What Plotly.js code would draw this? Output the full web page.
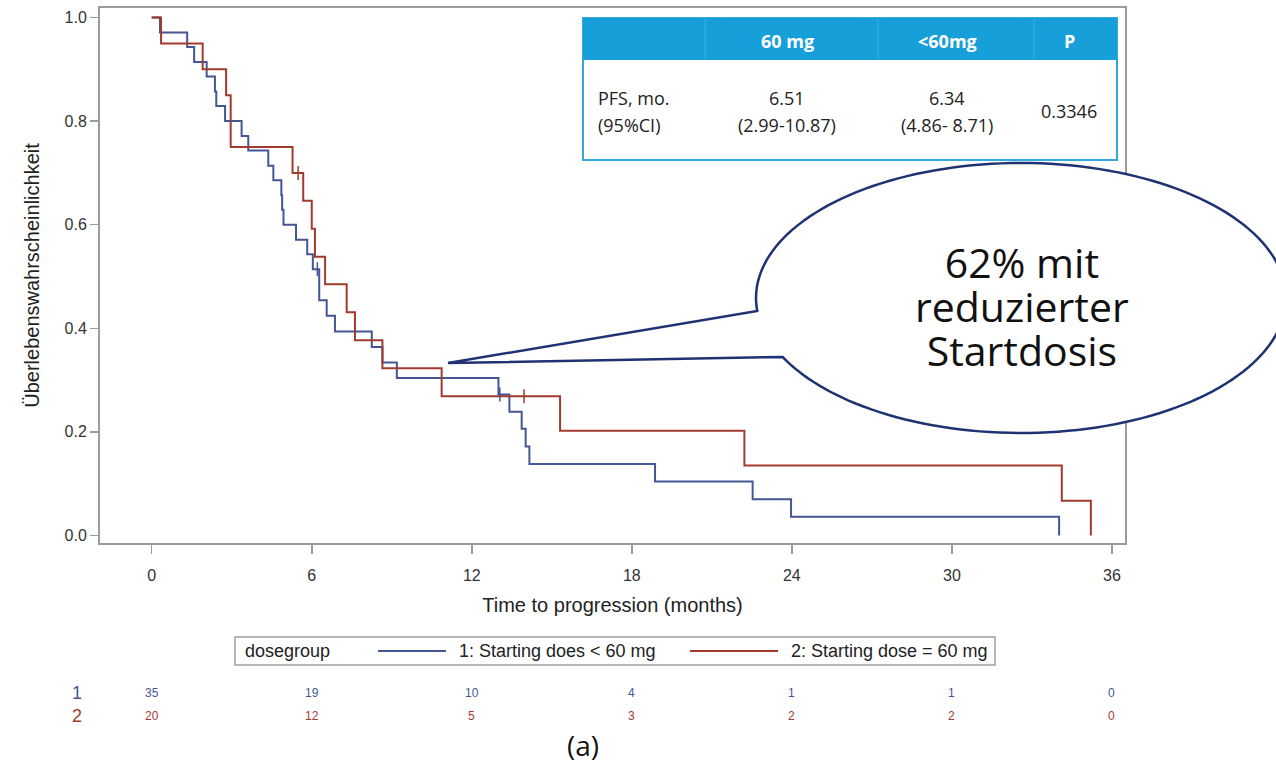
<!DOCTYPE html>
<html>
<head>
<meta charset="utf-8">
<script src="https://cdn.plot.ly/plotly-3.0.1.min.js"></script>
<style>html,body{margin:0;padding:0;background:#fff;}#chart{width:1276px;height:767px;}</style>
</head>
<body>
<div id="chart"></div>
<script>
// ---- data ----
const monthsBlue = [0,0.31,1.33,1.59,2.06,2.37,2.42,2.75,3.37,3.62,4.37,4.56,4.86,4.89,4.94,5.41,5.83,6.04,6.28,6.56,6.87,8.25,8.65,9.19,13.0,13.41,13.87,14.02,14.16,18.87,22.53,23.97,34.02];
const survBlue   = [1,0.971,0.943,0.914,0.886,0.857,0.829,0.800,0.771,0.743,0.714,0.686,0.657,0.629,0.600,0.571,0.543,0.514,0.454,0.424,0.394,0.364,0.334,0.304,0.272,0.239,0.206,0.172,0.138,0.104,0.070,0.036,0];
const censorBlueX = [6.21, 13.05];
const censorBlueY = [0.514, 0.272];

const monthsRed = [0,0.35,1.91,2.79,2.96,5.28,5.68,6.00,6.12,6.50,7.31,7.62,8.65,10.87,15.31,22.22,34.12,35.21];
const survRed   = [1,0.95,0.90,0.85,0.75,0.70,0.646,0.592,0.538,0.485,0.431,0.377,0.323,0.269,0.202,0.135,0.067,0];
const censorRedX = [5.49, 13.96];
const censorRedY = [0.70, 0.269];

const riskTimes = [0,6,12,18,24,30,36];
const riskBlue  = [35,19,10,4,1,1,0];
const riskRed   = [20,12,5,3,2,2,0];

const seriesNames = ["1: Starting does < 60 mg", "2: Starting dose = 60 mg"];
const tableHeader = ["60 mg", "<60mg", "P"];
const tableRowLabel = ["PFS, mo.", "(95%CI)"];
const tableMedian = ["6.51", "6.34"];
const tableCI = ["(2.99-10.87)", "(4.86- 8.71)"];
const tableP = "0.3346";
const calloutLines = ["62% mit", "reduzierter", "Startdosis"];

// ---- styling ----
const BLUE = "#445694", RED = "#A23A2E";
const AX = "#9b9b9b";
const SANS = "Liberation Sans, Arial, sans-serif";
const OPEN = "Open Sans, Noto Sans, sans-serif";

// plot area in pixels: x 100..1125, y 8..543
const L = 100, R = 1125, T = 8, B = 543, W = 1276, H = 767;
const px = v => (v - L) / (R - L);
const py = v => (B - v) / (B - T);

const traces = [
  {x: monthsBlue, y: survBlue, mode: "lines", line: {shape: "hv", color: BLUE, width: 2}, name: seriesNames[0], hoverinfo: "x+y"},
  {x: monthsRed, y: survRed, mode: "lines", line: {shape: "hv", color: RED, width: 2}, name: seriesNames[1], hoverinfo: "x+y"},
  {x: censorBlueX, y: censorBlueY, mode: "markers", marker: {symbol: "line-ns", size: 10, line: {color: BLUE, width: 1.5}}, hoverinfo: "skip"},
  {x: censorRedX, y: censorRedY, mode: "markers", marker: {symbol: "line-ns", size: 10, line: {color: RED, width: 1.5}}, hoverinfo: "skip"}
];

const shapes = [];
const annotations = [];

// ---- PFS table ----
shapes.push({type: "rect", xref: "paper", yref: "paper", x0: px(583), x1: px(1117), y0: py(18), y1: py(160),
  fillcolor: "#ffffff", line: {color: "#35a8dd", width: 2}, layer: "above"});
shapes.push({type: "rect", xref: "paper", yref: "paper", x0: px(583), x1: px(1117), y0: py(18), y1: py(60),
  fillcolor: "#179fd9", line: {width: 0}, layer: "above"});
[705, 878, 1034].forEach(xx => shapes.push({type: "line", xref: "paper", yref: "paper", x0: px(xx), x1: px(xx), y0: py(19), y1: py(59),
  line: {color: "rgba(255,255,255,0.18)", width: 1}, layer: "above"}));
const colX = [787, 947, 1069];
tableHeader.forEach((t, i) => annotations.push({xref: "paper", yref: "paper", x: px(colX[i]), y: py(41), text: "<b>" + t + "</b>",
  showarrow: false, xanchor: "center", yanchor: "middle", font: {family: OPEN, size: 18, color: "#ffffff"}}));
annotations.push({xref: "paper", yref: "paper", x: px(596), y: py(98), text: tableRowLabel[0], showarrow: false, xanchor: "left", yanchor: "middle", font: {family: OPEN, size: 18, color: "#222"}});
annotations.push({xref: "paper", yref: "paper", x: px(596), y: py(125), text: tableRowLabel[1], showarrow: false, xanchor: "left", yanchor: "middle", font: {family: OPEN, size: 18, color: "#222"}});
[0, 1].forEach(i => {
  annotations.push({xref: "paper", yref: "paper", x: px(colX[i]), y: py(98), text: tableMedian[i], showarrow: false, xanchor: "center", yanchor: "middle", font: {family: OPEN, size: 18, color: "#222"}});
  annotations.push({xref: "paper", yref: "paper", x: px(colX[i]), y: py(125), text: tableCI[i], showarrow: false, xanchor: "center", yanchor: "middle", font: {family: OPEN, size: 18, color: "#222"}});
});
annotations.push({xref: "paper", yref: "paper", x: px(colX[2]), y: py(111), text: tableP, showarrow: false, xanchor: "center", yanchor: "middle", font: {family: OPEN, size: 18, color: "#222"}});

// ---- oval callout ----
(function () {
  const cx = 1021, cy = 298, rx = 265, ry = 135;
  const tip = [448, 363];
  const aLow = Math.PI - Math.asin((357 - cy) / ry);   // lower attachment
  const aUp = Math.PI - Math.asin((311 - cy) / ry) - 2 * Math.PI; // upper attachment (going round)
  const n = 160;
  let d = "";
  for (let k = 0; k <= n; k++) {
    const a = aLow + (aUp - aLow) * k / n;
    const x = cx + rx * Math.cos(a), y = cy + ry * Math.sin(a);
    d += (k === 0 ? "M" : "L") + px(x).toFixed(5) + "," + py(y).toFixed(5) + " ";
  }
  d += "L" + px(tip[0]).toFixed(5) + "," + py(tip[1]).toFixed(5) + " Z";
  shapes.push({type: "path", xref: "paper", yref: "paper", path: d, fillcolor: "#ffffff", line: {color: "#1f3373", width: 2.5}, layer: "above"});
})();
// one text block: base size sets the 44px line pitch, inner spans set the glyph size
annotations.push({xref: "paper", yref: "paper", x: px(1022), y: py(306), showarrow: false, xanchor: "center", yanchor: "middle",
  text: calloutLines.map(t => '<span style="font-size:41px">' + t + '</span>').join("<br>"),
  font: {family: OPEN, size: 34, color: "#111"}});

// ---- legend box ----
shapes.push({type: "rect", xref: "paper", yref: "paper", x0: px(235), x1: px(995), y0: py(637), y1: py(665), line: {color: "#a0a0a0", width: 1.5}, fillcolor: "rgba(0,0,0,0)"});
shapes.push({type: "line", xref: "paper", yref: "paper", x0: px(378), x1: px(446), y0: py(651), y1: py(651), line: {color: BLUE, width: 2}});
shapes.push({type: "line", xref: "paper", yref: "paper", x0: px(690), x1: px(778), y0: py(651), y1: py(651), line: {color: RED, width: 2}});
annotations.push({xref: "paper", yref: "paper", x: px(243), y: py(651), text: "dosegroup", showarrow: false, xanchor: "left", yanchor: "middle", font: {family: SANS, size: 18, color: "#222"}});
annotations.push({xref: "paper", yref: "paper", x: px(457), y: py(651), text: seriesNames[0], showarrow: false, xanchor: "left", yanchor: "middle", font: {family: SANS, size: 18, color: "#222"}});
annotations.push({xref: "paper", yref: "paper", x: px(789), y: py(651), text: seriesNames[1], showarrow: false, xanchor: "left", yanchor: "middle", font: {family: SANS, size: 18, color: "#222"}});

// ---- number at risk ----
annotations.push({xref: "paper", yref: "paper", x: px(77), y: py(693), text: "1", showarrow: false, xanchor: "center", yanchor: "middle", font: {family: SANS, size: 18, color: BLUE}});
annotations.push({xref: "paper", yref: "paper", x: px(77), y: py(716), text: "2", showarrow: false, xanchor: "center", yanchor: "middle", font: {family: SANS, size: 18, color: RED}});
riskTimes.forEach((t, i) => {
  annotations.push({xref: "x", yref: "paper", x: t, y: py(693), text: String(riskBlue[i]), showarrow: false, xanchor: "center", yanchor: "middle", font: {family: SANS, size: 12, color: BLUE}});
  annotations.push({xref: "x", yref: "paper", x: t, y: py(716), text: String(riskRed[i]), showarrow: false, xanchor: "center", yanchor: "middle", font: {family: SANS, size: 12, color: RED}});
});

// ---- caption ----
annotations.push({xref: "paper", yref: "paper", x: px(583), y: py(745), text: "(a)", showarrow: false, xanchor: "center", yanchor: "middle", font: {family: OPEN, size: 28, color: "#111"}});

const layout = {
  width: W, height: H,
  margin: {l: L, r: W - R, t: T, b: H - B, pad: 0},
  paper_bgcolor: "#ffffff", plot_bgcolor: "#ffffff",
  showlegend: false,
  xaxis: {
    range: [-1.939, 36.49], tickvals: riskTimes, ticktext: riskTimes.map(String),
    showgrid: false, zeroline: false, showline: true, mirror: true, linecolor: AX, linewidth: 2,
    ticks: "outside", ticklen: 9, tickwidth: 1.5, tickcolor: AX, ticklabelstandoff: 8,
    tickfont: {family: SANS, size: 16, color: "#333"},
    title: {text: "Time to progression (months)", font: {family: SANS, size: 20, color: "#222"}, standoff: 15},
    automargin: false
  },
  yaxis: {
    range: [-0.0145, 1.0183], tickvals: [0, 0.2, 0.4, 0.6, 0.8, 1.0], tickformat: ".1f",
    showgrid: false, zeroline: false, showline: true, mirror: true, linecolor: AX, linewidth: 2,
    ticks: "outside", ticklen: 8, tickwidth: 1.5, tickcolor: AX,
    tickfont: {family: SANS, size: 16, color: "#333"},
    title: {text: "Überlebenswahrscheinlichkeit", font: {family: SANS, size: 20, color: "#222"}, standoff: 20},
    automargin: false
  },
  shapes: shapes,
  annotations: annotations
};

Plotly.newPlot("chart", traces, layout, {displayModeBar: false, staticPlot: true});
</script>
</body>
</html>
